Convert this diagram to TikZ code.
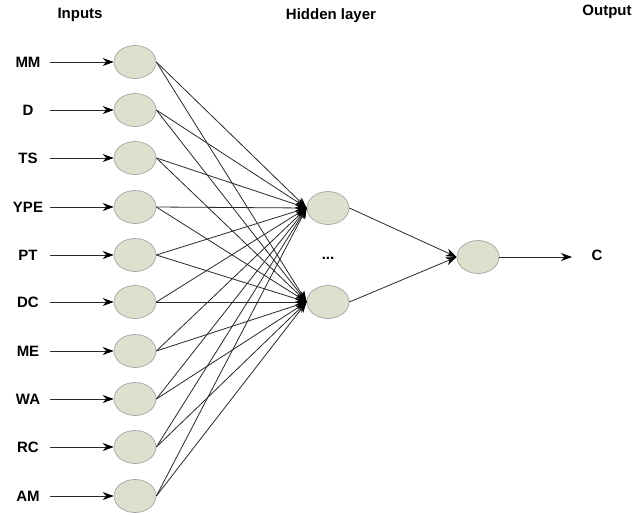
\documentclass[tikz,border=0pt]{standalone}
\usepackage{fontspec}
\setmainfont{Liberation Sans}
\usetikzlibrary{arrows.meta,shapes.geometric}
\definecolor{nodefill}{RGB}{221,224,204}
\definecolor{nodeline}{RGB}{165,165,165}
\definecolor{edge}{RGB}{40,40,40}
\begin{document}
\begin{tikzpicture}[x=1pt,y=-1pt,
  neuron/.style={ellipse,draw=nodeline,fill=nodefill,minimum width=42pt,minimum height=33pt,inner sep=0pt,line width=0.7pt},
  lab/.style={font=\bfseries\fontsize{15}{17}\selectfont,inner sep=0pt},
  conn/.style={draw=edge,line width=0.8pt,-{Stealth[length=11pt,width=8pt,color=black]}}]
\useasboundingbox (0,0) rectangle (637,514);
\node[lab] (hin) at (80,15) {Inputs};
\node[lab] (hhid) at (331,16) {Hidden layer};
\node[lab] (hout) at (607,12) {Output};
\foreach \n/\t/\y in {1/MM/62,2/D/110,3/TS/158,4/YPE/207,5/PT/255,6/DC/302,7/ME/351,8/WA/399,9/RC/447,10/AM/496}{
  \node[neuron] (i\n) at (135,\y) {};
  \node[lab] (l\n) at (28,\y) {\t};
  \coordinate (s\n) at (50,\y);
  \draw[conn] (s\n) -- (i\n.west);
}
\node[neuron] (h1) at (328,208) {};
\node[neuron] (h2) at (328,302) {};
\node[lab] (dots) at (328,258) {...};
\foreach \n in {1,...,10}{
  \draw[conn] (i\n.east) -- (h1.west);
  \draw[conn] (i\n.east) -- (h2.west);
}
\node[neuron] (o) at (478,257) {};
\draw[conn] (h1.east) -- (o.west);
\draw[conn] (h2.east) -- (o.west);
\node[lab] (c) at (597,255) {C};
\coordinate (ce) at (572,257);
\draw[conn] (o.east) -- (ce);
\end{tikzpicture}
\end{document}
